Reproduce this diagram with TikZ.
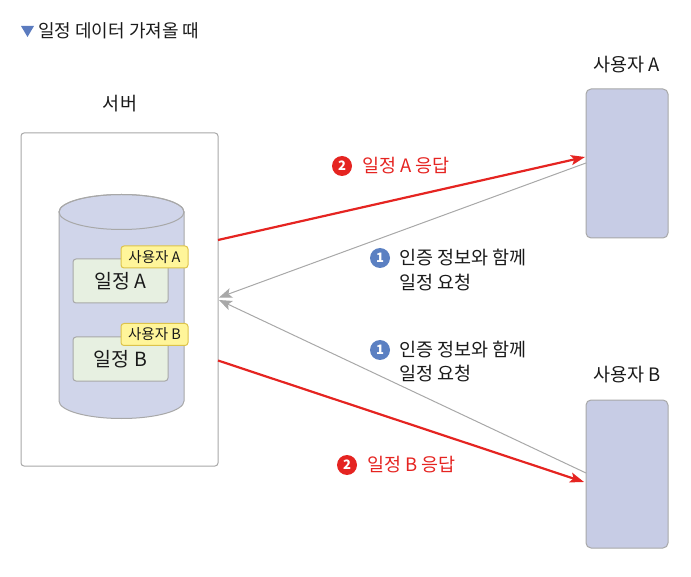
\documentclass[tikz,border=0pt]{standalone}
\usepackage{fontspec}
\setmainfont{Noto Sans CJK KR}
\usetikzlibrary{arrows.meta,calc}
\definecolor{redA}{HTML}{E52421}
\definecolor{blueC}{HTML}{5B80C2}
\definecolor{triB}{HTML}{5B7BBF}
\definecolor{cylF}{HTML}{D0D5EA}
\definecolor{userF}{HTML}{C7CCE5}
\definecolor{grnF}{HTML}{E7F0E1}
\definecolor{tagF}{HTML}{FFF59A}
\definecolor{tagD}{HTML}{DDC34A}
\definecolor{lineG}{HTML}{A8A8A8}
\definecolor{txtK}{HTML}{1A1A1A}
\begin{document}
\begin{tikzpicture}[x=1pt,y=-1pt,
  plainbox/.style={draw=lineG, line width=1pt, inner sep=0pt, outer sep=0pt},
  serverbox/.style={plainbox, fill=white, rounded corners=3pt},
  userbox/.style={plainbox, fill=userF, rounded corners=5pt, minimum width=82, minimum height=149},
  schedbox/.style={plainbox, fill=grnF, rounded corners=3pt, minimum width=95, minimum height=44, font=\fontsize{19.5}{22}\selectfont, text=txtK},
  tagbox/.style={draw=tagD, line width=1pt, fill=tagF, rounded corners=3pt, inner sep=0pt, minimum width=67, minimum height=22, font=\fontsize{14.5}{16}\selectfont, text=txtK},
  lbl/.style={inner sep=0pt, font=\fontsize{18.5}{21}\selectfont, text=txtK},
  redlbl/.style={inner sep=0pt, font=\fontsize{18.5}{21}\selectfont, text=redA},
  numcirc/.style={circle, fill=#1, text=white, inner sep=0pt, minimum size=20, font=\fontsize{13}{13}\bfseries\selectfont},
  redarrow/.style={draw=redA, line width=2.2pt, -{Stealth[length=14pt,width=10pt,inset=3pt]}},
  grayarrow/.style={draw=lineG, line width=1pt, -{Stealth[length=13pt,width=10pt,inset=3pt]}}
]
\useasboundingbox (0,0) rectangle (691,577);

% title
\fill[triB] (21,26) -- (34,26) -- (27.5,37) -- cycle;
\node[lbl, anchor=west, font=\fontsize{18}{20}\selectfont] (title) at (38,31) {일정 데이터 가져올 때};

% server
\node[lbl] (serverlbl) at (120,104) {서버};
\node[serverbox, minimum width=197, minimum height=333] (server) at (119.5,299.5) {};

% cylinder
\filldraw[fill=cylF, draw=lineG, line width=1pt]
  (59,212) -- (59,401) arc[start angle=180, end angle=0, x radius=62.5, y radius=17.5]
  -- (184,212) arc[start angle=0, end angle=-180, x radius=62.5, y radius=17.5] -- cycle;
\draw[lineG, line width=1pt] (121.5,212) ellipse[x radius=62.5, y radius=17.5];

% schedules
\node[schedbox] (schedA) at (120.5,281) {일정 A};
\node[tagbox] (tagA) at (154.5,257) {사용자 A};
\node[schedbox] (schedB) at (120.5,359) {일정 B};
\node[tagbox] (tagB) at (154.5,334.5) {사용자 B};

% users
\node[lbl] (ualbl) at (627,65) {사용자 A};
\node[userbox] (ua) at (627,163.5) {};
\node[lbl] (ublbl) at (627,375) {사용자 B};
\node[userbox, minimum height=148] (ub) at (627,474) {};

% connectors
\draw[grayarrow] ($(ua.west)+(0,-0.5)$) -- ($(server.east)+(1,-2)$);
\draw[grayarrow] ($(ub.west)+(0,-1)$) -- ($(server.east)+(1,0.5)$);
\draw[redarrow] ($(server.east)+(0,-59.5)$) -- ($(ua.west)+(-1,-6.5)$);
\draw[redarrow] ($(server.east)+(0,61)$) -- ($(ub.west)+(-2,8)$);

% labels
\node[numcirc=redA] (n2a) at (342,166) {2};
\node[redlbl, anchor=west] (t2a) at (362,166) {일정 A 응답};
\node[numcirc=blueC] (n1a) at (380,258) {1};
\node[lbl, anchor=west] (t1a) at (399,258) {인증 정보와 함께};
\node[lbl, anchor=west] (t1a2) at (399,283) {일정 요청};
\node[numcirc=blueC] (n1b) at (380,350) {1};
\node[lbl, anchor=west] (t1b) at (399,350) {인증 정보와 함께};
\node[lbl, anchor=west] (t1b2) at (399,374) {일정 요청};
\node[numcirc=redA] (n2b) at (347,465) {2};
\node[redlbl, anchor=west] (t2b) at (367,465) {일정 B 응답};
\end{tikzpicture}
\end{document}
